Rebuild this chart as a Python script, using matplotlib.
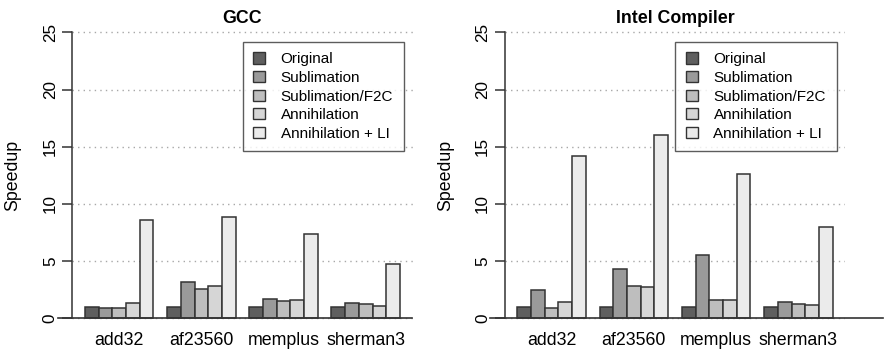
import numpy as np
import matplotlib
matplotlib.use('Agg')
import matplotlib.pyplot as plt
from matplotlib.patches import Patch

plt.rcParams['font.family'] = ['Liberation Sans', 'DejaVu Sans']

benchmarks = ['add32', 'af23560', 'memplus', 'sherman3']
methods = ['Original', 'Sublimation', 'Sublimation/F2C', 'Annihilation',
           'Annihilation + LI']
colors = ['#5f5f5f', '#9a9a9a', '#bebebe', '#d6d6d6', '#ebebeb']

# rows: methods, columns: benchmarks
gcc = [
    [1.0, 1.0, 1.0, 1.0],
    [0.87, 3.15, 1.69, 1.31],
    [0.93, 2.6, 1.54, 1.22],
    [1.37, 2.85, 1.63, 1.08],
    [8.57, 8.83, 7.34, 4.78],
]
intel = [
    [1.0, 1.0, 1.0, 1.0],
    [2.5, 4.28, 5.52, 1.43],
    [0.93, 2.8, 1.57, 1.22],
    [1.4, 2.74, 1.63, 1.14],
    [14.16, 16.05, 12.65, 7.98],
]
yticks = [0, 5, 10, 15, 20, 25]


def panel(fig, rect, title, data, base_x, ylab_x):
    ax = fig.add_axes(rect)
    n = len(methods)
    # grid first
    for t in yticks:
        ax.plot([0.08, 24.92], [t, t], color='#a8a8a8', lw=1.0,
                linestyle=(0, (1, 3)), zorder=1)
    for j in range(n):
        lefts = 1 + np.arange(len(benchmarks)) * (n + 1) + j
        ax.bar(lefts, data[j], width=1.0, align='edge', color=colors[j],
               edgecolor='#333333', linewidth=1.1, zorder=2)
    ax.plot(base_x, [0, 0], color='#333333', lw=1.2, zorder=3,
            clip_on=False)
    ax.set_xlim(0.08, 24.92)
    ax.set_ylim(-1, 26)
    for s in ['top', 'right', 'bottom']:
        ax.spines[s].set_visible(False)
    ax.spines['left'].set_bounds(0, 25)
    ax.spines['left'].set_color('#333333')
    ax.spines['left'].set_linewidth(1.1)
    ax.set_yticks(yticks)
    ax.set_yticklabels([str(t) for t in yticks], rotation=90, va='center',
                       fontsize=12.3)
    ax.tick_params(axis='y', length=7, width=1.1, color='#333333', pad=3.5)
    centers = 1 + np.arange(len(benchmarks)) * (n + 1) + n / 2.0
    ax.set_xticks(centers)
    ax.set_xticklabels(benchmarks, fontsize=12.8)
    ax.tick_params(axis='x', length=0, pad=2)
    ax.set_ylabel('Speedup', fontsize=12.8, va='center')
    ax.yaxis.set_label_coords(ylab_x, 0.5)
    ax.text(0.5, 0.993, title, transform=ax.transAxes, ha='center',
            va='baseline', fontsize=12.8, fontweight='bold')
    handles = [Patch(facecolor=c, edgecolor='#333333', linewidth=1.0)
               for c in colors]
    leg = ax.legend(handles, methods, loc='upper right',
                    bbox_to_anchor=(0.9747, 0.9326), fontsize=11,
                    frameon=True, fancybox=False, handlelength=0.8,
                    handleheight=0.75, handletextpad=1.0, labelspacing=0.3,
                    borderpad=0.7, borderaxespad=0)
    leg.get_frame().set_edgecolor('#333333')
    leg.get_frame().set_linewidth(1.0)
    return ax


fig = plt.figure(figsize=(8.87, 3.51), dpi=100)
panel(fig, [0.0816, 0.0607, 0.3835, 0.8798], 'GCC', gcc,
      [-0.97, 24.88], -0.174)
panel(fig, [0.569, 0.0607, 0.384, 0.8798], 'Intel Compiler', intel,
      [-0.99, 27.67], -0.172)
fig.savefig('out.png', dpi=100)
